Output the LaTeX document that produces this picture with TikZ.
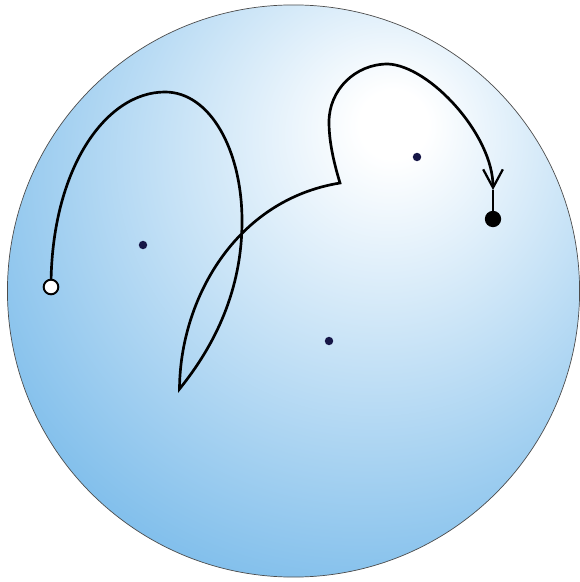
\documentclass[tikz,border=0pt]{standalone}
\usetikzlibrary{arrows.meta}
\definecolor{discblue}{RGB}{108,180,232}
\definecolor{puncture}{RGB}{22,22,70}
\pgfdeclareradialshading{discshade}{\pgfpoint{9bp}{15bp}}{color(0bp)=(white); color(3bp)=(white); color(42bp)=(discblue); color(100bp)=(discblue)}
\begin{document}
\begin{tikzpicture}[x=0.025cm,y=-0.025cm]
    \useasboundingbox (0,0) rectangle (579,582);

    % Disco sombreado
    \shade[shading=discshade,draw=black!70,line width=0.5pt] (293.5,291) circle (7.15cm);

    % Puntos marcados
    \foreach \p in {(143,245),(417,157),(329,341)}
      \fill[puncture] \p circle (3pt);

    % Puntos de la curva
    \coordinate (start) at (51,287);
    \coordinate (top1) at (165,92);
    \coordinate (right1) at (242,221);
    \coordinate (cusp1) at (179.5,389);
    \coordinate (cusp2) at (340,183);
    \coordinate (left2) at (329,122);
    \coordinate (top2) at (388,64);
    \coordinate (tip) at (493,190);
    \coordinate (end) at (493,219);

    % Curva con flecha
    \draw[line width=1.9pt,-{Straight Barb[length=13pt,width=14pt,line width=1.6pt]}]
      (start) .. controls (51,170) and (105,92) .. (top1)
      .. controls (210,92) and (242,150) .. (right1)
      .. controls (242,290) and (215,345) .. (cusp1)
      .. controls (180,300) and (235,200) .. (cusp2)
      .. controls (333,160) and (329,140) .. (left2)
      .. controls (329,90) and (355,64) .. (top2)
      .. controls (430,66) and (493,135) .. (tip);
    \draw[line width=1.9pt] (tip) -- (end);

    % Extremos
    \fill (end) circle (5.8pt);
    \draw[line width=1.4pt,fill=white] (start) circle (5.2pt);
\end{tikzpicture}
\end{document}
